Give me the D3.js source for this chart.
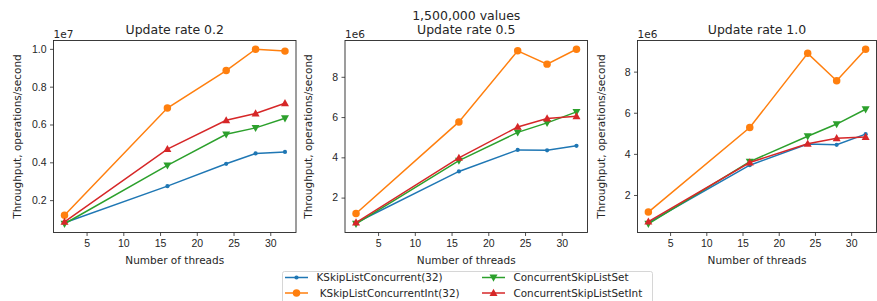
<!DOCTYPE html>
<html>
<head>
<meta charset="utf-8">
<script src="https://cdn.jsdelivr.net/npm/d3@7"></script>
<style>
  body { margin: 0; background: #fff; }
  svg { display: block; font-family: "DejaVu Sans", sans-serif; }
  .tick text { font-size: 10.5px; fill: #262626; }
  .axTitle { font-size: 12.5px; fill: #262626; }
  .axLabel { font-size: 10.5px; fill: #262626; }
  .legText { font-size: 10.4px; fill: #262626; }
</style>
</head>
<body>
<svg id="chart" width="877" height="301"></svg>
<script>
// thread counts on the x axis
var threads = [2, 16, 24, 28, 32];

// series names (legend order = draw order)
var seriesNames = ["KSkipListConcurrent(32)", " KSkipListConcurrentInt(32)", "ConcurrentSkipListSet", "ConcurrentSkipListSetInt"];

// throughput, millions of ops/second, per panel
var rate02 = [
  [0.80, 2.74, 3.92, 4.47, 4.55],
  [1.20, 6.87, 8.85, 9.98, 9.88],
  [0.75, 3.84, 5.48, 5.82, 6.33],
  [0.85, 4.70, 6.22, 6.58, 7.12]
];
var rate05 = [
  [0.75, 3.30, 4.37, 4.35, 4.57],
  [1.21, 5.76, 9.29, 8.63, 9.37],
  [0.70, 3.84, 5.24, 5.71, 6.26],
  [0.76, 3.97, 5.51, 5.93, 6.04]
];
var rate10 = [
  [0.65, 3.45, 4.48, 4.44, 4.96],
  [1.17, 5.28, 8.89, 7.56, 9.09],
  [0.60, 3.62, 4.86, 5.45, 6.17],
  [0.70, 3.58, 4.49, 4.76, 4.82]
];

var panelTitles = [["Update rate 0.2"], ["1,500,000 values", "Update rate 0.5"], ["Update rate 1.0"]];
var yTicks = [[2, 4, 6, 8, 10], [2, 4, 6, 8], [2, 4, 6, 8]];
var yTickLabels = [["0.2", "0.4", "0.6", "0.8", "1.0"], ["2", "4", "6", "8"], ["2", "4", "6", "8"]];
var yOffsetText = ["1e7", "1e6", "1e6"];
var xTicks = [5, 10, 15, 20, 25, 30];

var colors = ["#1f77b4", "#ff7f0e", "#2ca02c", "#d62728"];
var panelsData = [rate02, rate05, rate10];

var svg = d3.select("#chart");
var lefts = [53.5, 345, 637.5], rights = [296, 587.5, 876.5];
var plotTop = 40.5, plotBottom = 232.5;

function marker(i) {
  if (i === 0) return d3.symbol().type(d3.symbolCircle).size(14)();
  if (i === 1) return d3.symbol().type(d3.symbolCircle).size(44)();
  if (i === 2) return "M-4,-2.9L4,-2.9L0,4.2Z";
  return "M-4,2.9L4,2.9L0,-4.2Z";
}

panelsData.forEach(function (series, p) {
  var all = [].concat.apply([], series);
  var lo = d3.min(all), hi = d3.max(all), pad = (hi - lo) * 0.05;
  var x = d3.scaleLinear().domain([0.5, 33.5]).range([lefts[p], rights[p]]);
  var y = d3.scaleLinear().domain([lo - pad, hi + pad]).range([plotBottom, plotTop]);

  var g = svg.append("g");

  var xAxis = g.append("g").attr("transform", "translate(0," + plotBottom + ")")
    .call(d3.axisBottom(x).tickValues(xTicks).tickSize(3.5).tickPadding(3.5));
  var yAxis = g.append("g").attr("transform", "translate(" + lefts[p] + ",0)")
    .call(d3.axisLeft(y).tickValues(yTicks[p]).tickSize(3.5).tickPadding(3.5)
      .tickFormat(function (d, i) { return yTickLabels[p][i]; }));
  [xAxis, yAxis].forEach(function (a) {
    a.select(".domain").remove();
    a.selectAll(".tick line").attr("stroke", "#262626").attr("stroke-width", 0.8);
  });

  g.append("rect").attr("x", lefts[p]).attr("y", plotTop)
    .attr("width", rights[p] - lefts[p]).attr("height", plotBottom - plotTop)
    .attr("fill", "none").attr("stroke", "#262626").attr("stroke-width", 0.9);

  var line = d3.line().x(function (d, i) { return x(threads[i]); }).y(function (d) { return y(d); });

  series.forEach(function (vals, s) {
    g.append("path").datum(vals).attr("d", line)
      .attr("fill", "none").attr("stroke", colors[s]).attr("stroke-width", 1.5);
    g.selectAll(".m" + s).data(vals).enter().append("path")
      .attr("d", marker(s))
      .attr("transform", function (d, i) { return "translate(" + x(threads[i]) + "," + y(d) + ")"; })
      .attr("fill", colors[s]);
  });

  var cx = (lefts[p] + rights[p]) / 2;
  var tl = panelTitles[p];
  tl.forEach(function (t, k) {
    g.append("text").attr("class", "axTitle").attr("x", cx)
      .attr("y", 34 - (tl.length - 1 - k) * 14.5).attr("text-anchor", "middle").text(t);
  });

  g.append("text").attr("class", "axLabel").attr("x", lefts[p]).attr("y", 37.5).text(yOffsetText[p]);
  g.append("text").attr("class", "axLabel").attr("x", cx).attr("y", 264)
    .attr("text-anchor", "middle").text("Number of threads");
  g.append("text").attr("class", "axLabel")
    .attr("transform", "translate(" + (lefts[p] - 33) + "," + ((plotTop + plotBottom) / 2) + ") rotate(-90)")
    .attr("text-anchor", "middle").text("Throughput, operations/second");
});

// legend
var leg = svg.append("g");
leg.append("rect").attr("x", 282.5).attr("y", 271.5).attr("width", 370).attr("height", 34)
  .attr("rx", 2).attr("fill", "#fff").attr("stroke", "#cccccc").attr("stroke-width", 0.8);
var legX = [285, 482], legY = [277.5, 293];
seriesNames.forEach(function (name, s) {
  var col = Math.floor(s / 2), row = s % 2;
  var lx = legX[col], ly = legY[row];
  leg.append("line").attr("x1", lx).attr("x2", lx + 23).attr("y1", ly).attr("y2", ly)
    .attr("stroke", colors[s]).attr("stroke-width", 1.5);
  leg.append("path").attr("d", marker(s)).attr("transform", "translate(" + (lx + 11.5) + "," + ly + ")")
    .attr("fill", colors[s]);
  leg.append("text").attr("class", "legText").attr("x", lx + 31.5).attr("y", ly + 3.6)
    .attr("xml:space", "preserve").style("white-space", "pre").text(name);
});
</script>
</body>
</html>
